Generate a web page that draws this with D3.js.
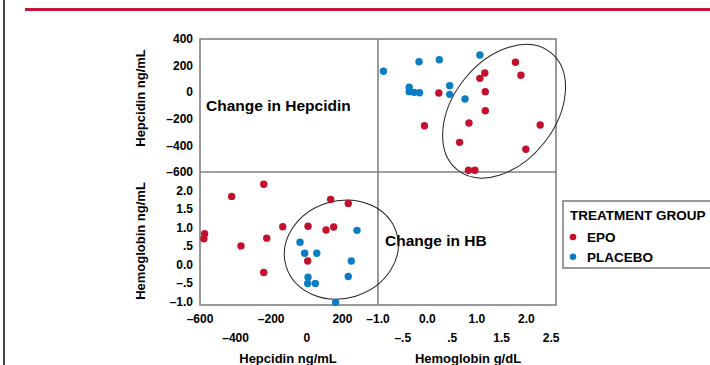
<!DOCTYPE html>
<html>
<head>
<meta charset="utf-8">
<script src="https://cdn.jsdelivr.net/npm/d3@7"></script>
<style>
  body { margin: 0; background: #fff; }
  svg { display: block; font-family: Arial, 'Liberation Sans', Helvetica, sans-serif; font-weight: bold; }
</style>
</head>
<body>
<div id="chart"></div>
<script>
'use strict';

var groups = ['EPO', 'PLACEBO'];

// upper right panel: [change in hemoglobin g/dL, change in hepcidin ng/mL]
var upperEpo = [
    [1.78, 225], [1.89, 127], [1.16, 144], [1.06, 104], [0.23, -6], [1.17, 4],
    [1.17, -139], [-0.06, -252], [0.84, -232], [2.28, -247], [0.65, -377],
    [1.99, -429], [0.83, -587], [0.96, -587]
];
var upperPlacebo = [
    [-0.89, 157], [-0.17, 229], [0.24, 244], [1.06, 280], [-0.37, 37], [-0.37, 4],
    [-0.27, -1], [-0.16, -4], [0.45, 49], [0.45, -16], [0.76, -51]
];

// lower left panel: [change in hepcidin ng/mL, change in hemoglobin]
var lowerEpo = [
    [-574, 0.83], [-578, 0.69], [-422, 1.84], [-370, 0.50], [-242, 2.17], [-225, 0.71],
    [-242, -0.22], [-135, 1.02], [7, 1.03], [5, 0.09], [108, 0.93], [151, 1.01],
    [134, 1.76], [233, 1.65]
];
var lowerPlacebo = [
    [-38, 0.60], [-12, 0.30], [56, 0.30], [7, -0.35], [5, -0.52], [48, -0.52],
    [282, 0.92], [250, 0.09], [233, -0.33], [162, -1.03]
];

var hepTicks = [-600, -400, -200, 0, 200, 400];
var hbXTicks = [-1.0, -0.5, 0, 0.5, 1.0, 1.5, 2.0, 2.5];
var hbYTicks = [2.0, 1.5, 1.0, 0.5, 0, -0.5, -1.0];

var width = 710, height = 365;
var left = 200, mid = 378, right = 556;
var topY = 39, midY = 172, bottomY = 305;

var colors = { 'EPO': '#c4102f', 'PLACEBO': '#0a7dc5' };

function fmt(v) {
    var s = d3.format('.1f')(Math.abs(v));
    if (Math.abs(v) === 0.5) { s = '.5'; }
    return (v < 0 ? '\u2013' : '') + s;
}
function fmtHep(v) {
    return (v < 0 ? '\u2013' : '') + Math.abs(v);
}

var hepX = d3.scaleLinear().domain([-600, 400]).range([left, mid]);
var hepY = d3.scaleLinear().domain([-600, 400]).range([midY, topY]);
var hbX = d3.scaleLinear().domain([-1.0, 2.6]).range([mid, right]);
var hbY = d3.scaleLinear().domain([-1.1, 2.5]).range([bottomY, midY]);

var svg = d3.select('#chart')
    .append('svg')
    .attr('width', width)
    .attr('height', height);

// page rules
svg.append('line')
    .attr('x1', 4).attr('x2', 4).attr('y1', 0).attr('y2', height)
    .attr('stroke', '#444').attr('stroke-width', 2);
svg.append('line')
    .attr('x1', 25).attr('x2', width).attr('y1', 9.5).attr('y2', 9.5)
    .attr('stroke', '#c8163a').attr('stroke-width', 3);

// panel frame
var frame = svg.append('g')
    .attr('fill', 'none')
    .attr('stroke', '#808080')
    .attr('stroke-width', 1.6);
frame.append('rect')
    .attr('x', left).attr('y', topY)
    .attr('width', right - left).attr('height', bottomY - topY);
frame.append('line')
    .attr('x1', mid).attr('x2', mid).attr('y1', topY).attr('y2', bottomY);
frame.append('line')
    .attr('x1', left).attr('x2', right).attr('y1', midY).attr('y2', midY);

// y tick labels
svg.append('g')
    .selectAll('text')
    .data(hepTicks)
    .enter()
    .append('text')
    .attr('x', 193)
    .attr('y', function (d) { return hepY(d); })
    .attr('dy', '0.35em')
    .attr('text-anchor', 'end')
    .attr('font-size', 12)
    .text(fmtHep);

svg.append('g')
    .selectAll('text')
    .data(hbYTicks)
    .enter()
    .append('text')
    .attr('x', 193)
    .attr('y', function (d) { return hbY(d); })
    .attr('dy', '0.35em')
    .attr('text-anchor', 'end')
    .attr('font-size', 12)
    .text(fmt);

// x tick labels, staggered on two rows
svg.append('g')
    .selectAll('text')
    .data(hepTicks.slice(0, 5))
    .enter()
    .append('text')
    .attr('x', function (d) { return hepX(d); })
    .attr('y', function (d, i) { return i % 2 === 0 ? 323 : 342; })
    .attr('text-anchor', 'middle')
    .attr('font-size', 12)
    .text(fmtHep);

svg.append('g')
    .selectAll('text')
    .data(hbXTicks)
    .enter()
    .append('text')
    .attr('x', function (d) { return hbX(d); })
    .attr('y', function (d, i) { return i % 2 === 0 ? 323 : 342; })
    .attr('text-anchor', 'middle')
    .attr('font-size', 12)
    .text(fmt);

// axis titles
svg.append('text')
    .attr('x', 288).attr('y', 363)
    .attr('text-anchor', 'middle').attr('font-size', 13)
    .text('Hepcidin ng/mL');
svg.append('text')
    .attr('x', 468).attr('y', 363)
    .attr('text-anchor', 'middle').attr('font-size', 13)
    .text('Hemoglobin g/dL');
svg.append('text')
    .attr('transform', 'translate(144.5,98) rotate(-90)')
    .attr('text-anchor', 'middle').attr('font-size', 13)
    .text('Hepcidin ng/mL');
svg.append('text')
    .attr('transform', 'translate(144.5,241) rotate(-90)')
    .attr('text-anchor', 'middle').attr('font-size', 13)
    .text('Hemoglobin ng/mL');

// diagonal panel labels
svg.append('text')
    .attr('x', 206).attr('y', 110.5)
    .attr('font-size', 15.5)
    .text('Change in Hepcidin');
svg.append('text')
    .attr('x', 385).attr('y', 245.5)
    .attr('font-size', 15.5)
    .text('Change in HB');

// ellipses around the responders
var rings = [
    { cx: hbX(1.55), cy: hepY(-143), rx: 75, ry: 51, angle: -51.5 },
    { cx: hepX(194), cy: hbY(0.40), rx: 57.7, ry: 48.7, angle: -17 }
];
svg.append('g')
    .selectAll('ellipse')
    .data(rings)
    .enter()
    .append('ellipse')
    .attr('transform', function (d) { return 'translate(' + d.cx + ',' + d.cy + ') rotate(' + d.angle + ')'; })
    .attr('rx', function (d) { return d.rx; })
    .attr('ry', function (d) { return d.ry; })
    .attr('fill', 'none')
    .attr('stroke', '#222')
    .attr('stroke-width', 1);

function drawDots(data, group, xs, ys) {
    svg.append('g')
        .selectAll('circle')
        .data(data)
        .enter()
        .append('circle')
        .attr('cx', function (d) { return xs(d[0]); })
        .attr('cy', function (d) { return ys(d[1]); })
        .attr('r', 3.7)
        .style('fill', colors[group]);
}

drawDots(upperPlacebo, 'PLACEBO', hbX, hepY);
drawDots(upperEpo, 'EPO', hbX, hepY);
drawDots(lowerPlacebo, 'PLACEBO', hepX, hbY);
drawDots(lowerEpo, 'EPO', hepX, hbY);

// legend
var legend = svg.append('g');
legend.append('rect')
    .attr('x', 563).attr('y', 201)
    .attr('width', 160).attr('height', 67)
    .attr('fill', '#fff')
    .attr('stroke', '#808080')
    .attr('stroke-width', 1.6);
legend.append('text')
    .attr('x', 570).attr('y', 220)
    .attr('font-size', 13.5)
    .text('TREATMENT GROUP');
var items = legend.selectAll('.item')
    .data(groups)
    .enter()
    .append('g')
    .attr('class', 'item')
    .attr('transform', function (d, i) { return 'translate(0,' + (237 + i * 19.7) + ')'; });
items.append('circle')
    .attr('cx', 573).attr('cy', 0).attr('r', 3.3)
    .style('fill', function (d) { return colors[d]; });
items.append('text')
    .attr('x', 587).attr('y', 0).attr('dy', '0.36em')
    .attr('font-size', 13.5)
    .text(function (d) { return d; });
</script>
</body>
</html>
